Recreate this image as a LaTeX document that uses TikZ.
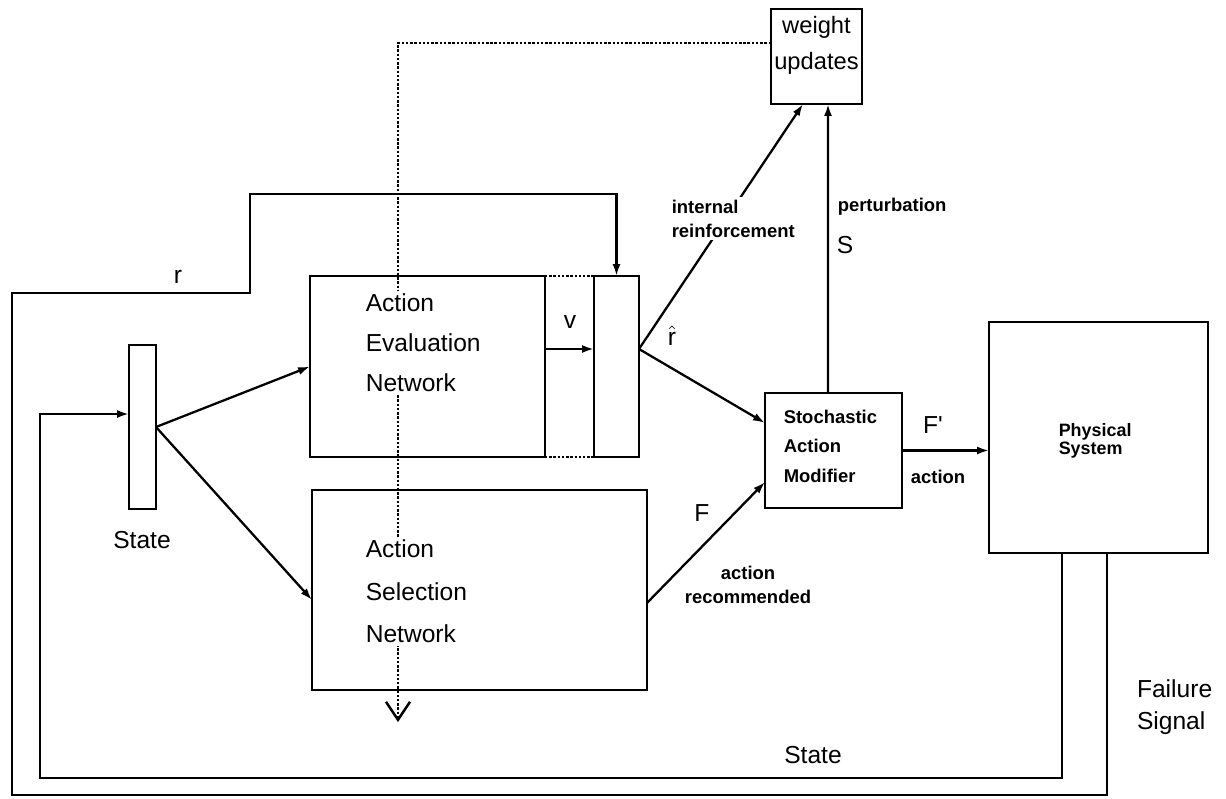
\documentclass[tikz,border=0pt]{standalone}
\usepackage{fontspec}
\setmainfont{Liberation Sans}
\usetikzlibrary{arrows.meta,positioning,calc}

\begin{document}
\begin{tikzpicture}[
  x=0.02cm, y=-0.02cm,
  line width=1.3pt,
  font=\fontsize{14}{17}\selectfont,
  block/.style={
    rectangle,
    draw=black,
    line width=1.6pt,
    inner sep=0pt,
    outer sep=0pt
  },
  bigtext/.style={
    font=\fontsize{14}{22.7}\selectfont,
    align=left,
    fill=white,
    inner sep=1.5pt
  },
  smalltext/.style={
    font=\fontsize{10.5}{16.8}\selectfont\bfseries,
    align=left,
    inner sep=1.5pt
  },
  tag/.style={
    font=\fontsize{10.5}{13.7}\selectfont\bfseries,
    fill=white,
    inner sep=1.5pt
  },
  arrow/.style={-{Latex[length=2.4mm,width=1.6mm]}},
  dotline/.style={densely dotted, line width=1.4pt}
]

\useasboundingbox (0,0) rectangle (1226,798);

\node[block, minimum width=1.82cm, minimum height=1.9cm] (wu) at (816.5,56.5) {};
\node[block, minimum width=4.7cm, minimum height=3.62cm] (aen) at (427.5,366.5) {};
\node[block, minimum width=0.9cm, minimum height=3.62cm] (crit) at (616.5,366.5) {};
\node[block, minimum width=6.7cm, minimum height=4cm] (asn) at (479.5,590) {};
\node[block, minimum width=0.54cm, minimum height=3.28cm] (sbar) at (142.5,427) {};
\node[block, minimum width=2.74cm, minimum height=2.3cm] (sam) at (833.5,450.5) {};
\node[block, minimum width=4.38cm, minimum height=4.62cm] (ps) at (1098.5,437.5) {};

\coordinate (dtop) at (398,43);
\coordinate (dend) at (398,722);
\coordinate (innercorner) at (40,778);
\coordinate (outercorner) at (12,795);
\coordinate (rstep) at (250,293);
\coordinate (rtop) at (616.5,194);
\coordinate (rout) at ($(crit.east)+(0,-17.5)$);

\draw[dotline, -{Straight Barb[length=3.6mm,width=4.8mm]}] ($(wu.west)+(0,-13.5)$) -- (dtop) -- (dend);
\draw[dotline] (aen.north east) -- (crit.north west);
\draw[dotline] (aen.south east) -- (crit.south west);

\draw[arrow] (sbar.east) -- (aen.west);
\draw[arrow] (sbar.east) -- ($(asn.west)+(0,10)$);
\draw[arrow] ($(aen.east)+(0,-17.5)$) -- ($(crit.west)+(0,-17.5)$);
\draw[arrow] (rout) -- ($(wu.south)+(-13.5,0)$);
\draw[arrow] (rout) -- ($(sam.west)+(0,-27.5)$);
\draw[arrow] ($(asn.east)+(0,13)$) -- ($(sam.west)+(0,31.5)$);
\draw[arrow] ($(sam.north)+(-5.5,0)$) -- ($(wu.south)+(11.5,0)$);
\draw[arrow] (sam.east) -- (sam.east -| ps.west);

\draw[arrow] ($(ps.south)+(-36.5,0)$) |- (innercorner) |- ($(sbar.west)+(0,-13)$);
\draw[arrow] ($(ps.south)+(8.5,0)$) |- (outercorner) |- (rstep) |- (rtop) -- (crit.north);

\node[align=center, font=\fontsize{13.5}{20.5}\selectfont] (wutext) at (816.5,45) {weight\\updates};
\node[bigtext, anchor=west] (aentext) at (362,343) {Action\\Evaluation\\Network};
\node[bigtext, anchor=west] (asntext) at (362,591.5) {Action\\[1.5pt]Selection\\[1.5pt]Network};
\node[smalltext, anchor=west] (samtext) at (780,446) {Stochastic\\Action\\Modifier};
\node[smalltext, anchor=west, font=\fontsize{10.2}{9.1}\selectfont\bfseries] (pstext) at (1055,440.5) {Physical\\System};

\node[tag, align=left, anchor=west] (intlbl) at (668,218.5) {internal\\reinforcement};
\node[tag, anchor=west] (pertlbl) at (834,207) {perturbation};
\node[tag, fill=none, align=center] (reclbl) at (748,585) {action\\recommended};
\node[tag] (actlbl) at (938,477) {action};

\node (vlbl) at (570,322) {v};
\node (rhatlbl) at (672,336) {$\hat{\mbox{r}}$};
\node (rlbl) at (178,277) {r};
\node (slbl) at (845,245) {S};
\node (flbl) at (702,513) {F};
\node (fplbl) at (933,425) {\addfontfeatures{Ligatures=TeXOff}F'};
\node (statelbl) at (142,540) {State};
\node (statefb) at (813,755) {State};
\node[align=left, anchor=west, font=\fontsize{14}{18.2}\selectfont] (faillbl) at (1130,707.5) {Failure\\Signal};

\end{tikzpicture}
\end{document}
